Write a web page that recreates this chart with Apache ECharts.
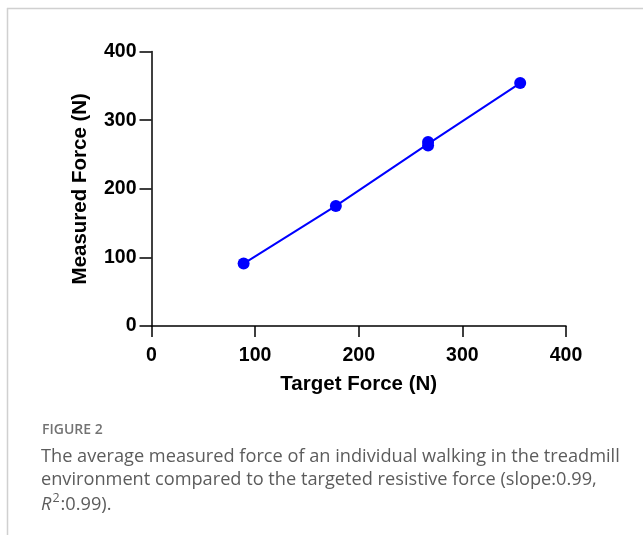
<!DOCTYPE html>
<html><head><meta charset="utf-8">
<script src="https://cdn.jsdelivr.net/npm/echarts@6/dist/echarts.min.js"></script>
<style>html,body{margin:0;padding:0;background:#fff}#c{width:643px;height:535px}</style>
</head><body><div id="c"></div>
<script>
const targetForce = [88.9, 177.9, 266.9, 266.9, 355.8];
const measuredForce = [91, 175, 263, 268, 354];
const lineX = [88.9, 177.9, 266.9, 355.8];
const lineY = [91, 175, 265.5, 354];
const xTicks = [0, 100, 200, 300, 400];
const yTicks = [0, 100, 200, 300, 400];

const chart = echarts.init(document.getElementById('c'), null, {renderer: 'canvas'});
const tickFont = {fontFamily: 'Liberation Sans, Arial, sans-serif', fontWeight: 'bold', fontSize: 19.5, color: '#000'};
const titleFont = {fontFamily: 'Liberation Sans, Arial, sans-serif', fontWeight: 'bold', fontSize: 20.5, color: '#000'};
const capFont = '"Open Sans", sans-serif';
chart.setOption({
  animation: false,
  backgroundColor: '#fff',
  grid: {left: 151.5, right: 77, top: 51.5, bottom: 209},
  xAxis: {
    type: 'value', min: xTicks[0], max: xTicks[xTicks.length-1], interval: 100,
    name: 'Target Force (N)', nameLocation: 'middle', nameGap: 48,
    nameTextStyle: titleFont,
    axisLine: {show: true, onZero: false, lineStyle: {color: '#000', width: 1.5}},
    axisTick: {show: true, length: 11, lineStyle: {color: '#000', width: 1.5}},
    axisLabel: Object.assign({margin: 20}, tickFont),
    splitLine: {show: false}
  },
  yAxis: {
    type: 'value', min: yTicks[0], max: yTicks[yTicks.length-1], interval: 100,
    name: 'Measured Force (N)', nameLocation: 'middle', nameGap: 61, nameRotate: 90,
    nameTextStyle: titleFont,
    axisLine: {show: true, onZero: false, lineStyle: {color: '#000', width: 1.5}},
    axisTick: {show: true, length: 12, lineStyle: {color: '#000', width: 1.5}},
    axisLabel: Object.assign({margin: 15}, tickFont),
    splitLine: {show: false}
  },
  series: [
    {type: 'line', data: lineX.map((x, i) => [x, lineY[i]]), showSymbol: false, symbol: 'none',
     lineStyle: {color: '#0000ff', width: 2}, z: 2},
    {type: 'scatter', data: targetForce.map((x, i) => [x, measuredForce[i]]), symbol: 'circle', symbolSize: 12,
     itemStyle: {color: '#0000ff', opacity: 1}, z: 3}
  ],
  graphic: [
    {type: 'line', shape: {x1: 7.5, y1: 8, x2: 7.5, y2: 535}, style: {stroke: '#d0d0d0', lineWidth: 1.5}},
    {type: 'line', shape: {x1: 7, y1: 8.5, x2: 643, y2: 8.5}, style: {stroke: '#d0d0d0', lineWidth: 1.5}},
    {type: 'text', x: 42, y: 430, style: {text: 'FIGURE 2', fill: '#737373', font: '600 14px ' + capFont, verticalAlign: 'middle'}},
    {type: 'text', x: 41, y: 456.5, style: {text: 'The average measured force of an individual walking in the treadmill', fill: '#5c5c5c', font: '18.2px ' + capFont, verticalAlign: 'middle'}},
    {type: 'text', x: 41, y: 480, style: {text: 'environment compared to the targeted resistive force (slope:0.99,', fill: '#5c5c5c', font: '18.2px ' + capFont, verticalAlign: 'middle'}},
    {type: 'text', x: 41, y: 503, style: {
      verticalAlign: 'middle',
      text: '{i|R}{s|2}{n|:0.99).}',
      rich: {
        i: {fill: '#5c5c5c', font: 'italic 18.2px ' + capFont, verticalAlign: 'bottom'},
        s: {fill: '#5c5c5c', font: '12.5px ' + capFont, verticalAlign: 'top', padding: [0,1,9,1]},
        n: {fill: '#5c5c5c', font: '18.2px ' + capFont, verticalAlign: 'bottom'}
      }
    }}
  ]
});
</script></body></html>
